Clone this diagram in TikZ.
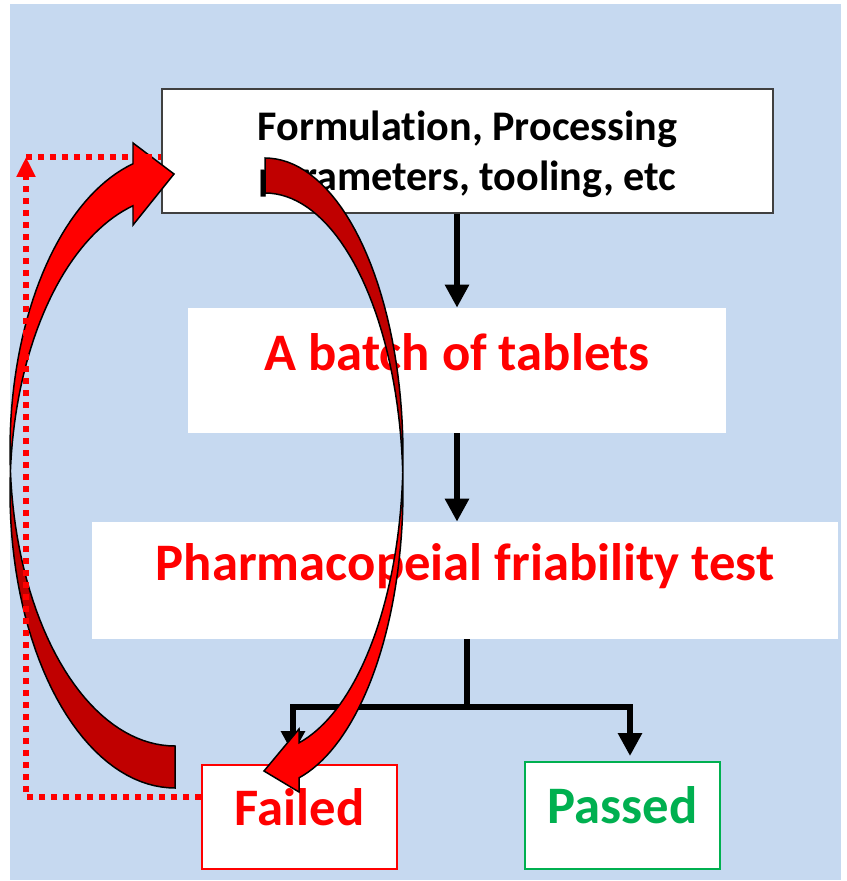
\documentclass[tikz,border=0pt]{standalone}
\usepackage{fontspec}
\setmainfont{Carlito}[Ligatures=NoCommon]
\usetikzlibrary{arrows.meta, positioning, calc}
\definecolor{tabblue}{HTML}{C6D9F0}
\definecolor{tabred}{HTML}{FF0000}
\definecolor{tabdark}{HTML}{C00000}
\definecolor{tabgreen}{HTML}{00B050}
\definecolor{tabgray}{HTML}{404040}
\tikzset{
  inputbox/.style={rectangle, fill=white, draw=tabgray, line width=0.8pt, align=center,
    font=\bfseries\fontsize{24}{28.5}\selectfont, minimum width=12.22cm, minimum height=2.48cm},
  stage/.style={rectangle, fill=white, inner sep=2pt, text=tabred, align=center,
    font=\bfseries\fontsize{30}{36}\selectfont, text height=0.72cm, text depth=0.72cm},
  outcome/.style={rectangle, fill=white, inner sep=2pt, line width=1.1pt, minimum width=3.9cm,
    font=\bfseries\fontsize{30}{36}\selectfont, text height=0.8cm, text depth=0.48cm},
  flowarr/.style={-{Triangle[length=0.46cm, width=0.46cm]}, line width=0.12cm, black},
  retryline/.style={tabred, line width=0.11cm, dash pattern=on 0.12cm off 0.12cm},
  bigarrow/.style={draw=black, line width=0.85pt, line join=miter},
}
\begin{document}
\begin{tikzpicture}[x=0.02cm, y=-0.02cm]
  \useasboundingbox (0,0) rectangle (846,881);
  \fill[tabblue] (10,4) rectangle (841,880);

  \node[inputbox] (param) at (467.5,151) {\rule{0pt}{0.72cm}Formulation, Processing\\parameters, tooling, etc};
  \node[stage, minimum width=10.76cm, minimum height=2.5cm] (batch) at (457,370.5) {A batch of tablets};
  \node[stage, minimum width=14.92cm, minimum height=2.34cm] (test) at (465,580.5) {Pharmacopeial friability test};
  \node[outcome, draw=tabred, text=tabred, minimum height=2.08cm] (failed) at (299.5,817) {Failed};
  \node[outcome, draw=tabgreen, text=tabgreen, minimum height=2.14cm] (passed) at (622.5,815.5) {Passed};

  \draw[flowarr] (param.south -| batch.north) -- (batch.north);
  \draw[flowarr] (batch.south) -- (test.north -| batch.south);
  \draw[flowarr, -] ($(test.south)+(2,0)$) -- ++(0,68) coordinate (split);
  \draw[flowarr, shorten >=0.2cm] (split) -| ($(failed.north)+(-6.5,0)$);
  \draw[flowarr, shorten >=0.1cm] (split) -| ($(passed.north)+(7.5,0)$);

  % back to the input: left ribbon arrow
  \filldraw[bigarrow, fill=tabred]
    plot[domain=255.25:175.93, samples=40] ({175+165*cos(\x)}, {450+296*sin(\x)})
    -- plot[domain=184.07:255.25, samples=40] ({175+165*cos(\x)}, {492+296*sin(\x)})
    -- (133,225) -- (174,174) -- (133,143) -- cycle;
  \filldraw[bigarrow, fill=tabdark]
    plot[domain=184.07:90, samples=40] ({175+165*cos(\x)}, {492+296*sin(\x)})
    -- plot[domain=90:175.93, samples=40] ({175+165*cos(\x)}, {450+296*sin(\x)}) -- cycle;

  % down to the failed batch: right ribbon arrow
  \filldraw[bigarrow, fill=tabdark]
    plot[domain=-90:3.38, samples=40] ({265+138*cos(\x)}, {455+297*sin(\x)})
    -- plot[domain=-3.38:-90, samples=40] ({265+138*cos(\x)}, {490+297*sin(\x)}) -- cycle;
  \filldraw[bigarrow, fill=tabred]
    plot[domain=-3.38:75.7, samples=40] ({265+138*cos(\x)}, {490+297*sin(\x)})
    -- (299,792) -- (264,771) -- (299,729)
    -- plot[domain=75.7:3.38, samples=40] ({265+138*cos(\x)}, {455+297*sin(\x)}) -- cycle;

  \coordinate (retrycorner) at (26,157);
  \draw[retryline, -{Triangle[length=0.4cm, width=0.36cm]}] ($(failed.west)+(0,-20)$) -| (retrycorner);
  \draw[retryline] (retrycorner) -- (retrycorner -| param.west);
\end{tikzpicture}
\end{document}
